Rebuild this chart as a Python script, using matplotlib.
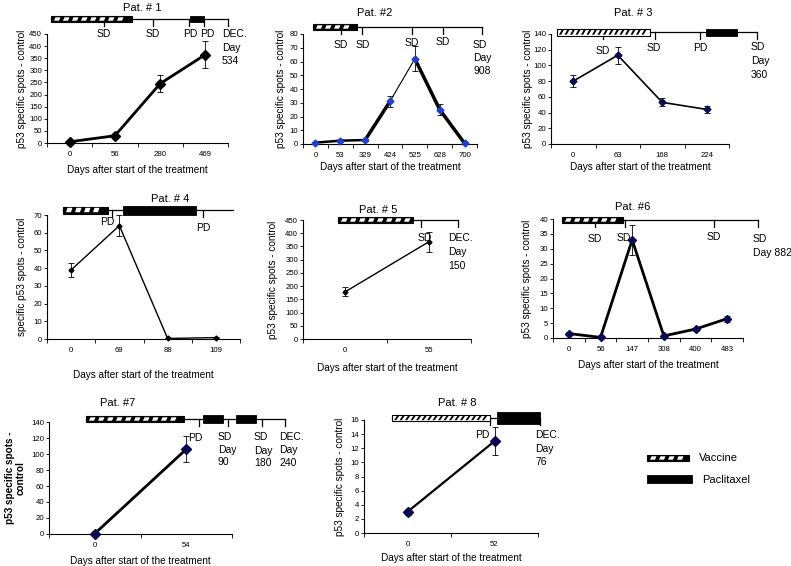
import numpy as np
import matplotlib
matplotlib.use('Agg')
from matplotlib import pyplot as plt
from matplotlib.patches import Rectangle, Polygon

plt.rcParams['font.family'] = ['Liberation Sans', 'DejaVu Sans']

# ---- data ----
p1_days = ['0', '56', '280', '469']
p1_vals = [5, 30, 245, 365]
p1_err = [4, 6, 35, 55]

p2_days = ['0', '53', '329', '424', '525', '628', '700']
p2_vals = [1, 2.4, 2.9, 31, 62, 25, 0.5]
p2_err = [0.8, 1, 1, 4, 9, 4, 0.5]

p3_days = ['0', '63', '168', '224']
p3_vals = [80, 113, 53, 44]
p3_err = [8, 11, 5, 4]

p4_days = ['0', '69', '88', '109']
p4_vals = [39, 64, 0.3, 0.8]
p4_err = [3.8, 6, 0.3, 0.3]

p5_days = ['0', '55']
p5_vals = [178, 368]
p5_err = [17, 38]

p6_days = ['0', '56', '147', '308', '400', '483']
p6_vals = [1.5, 0.2, 33, 0.7, 3, 6.5]
p6_err = [0.5, 0.2, 5, 0.3, 0.5, 1]

p7_days = ['0', '54']
p7_vals = [0.5, 106]
p7_err = [3, 16]

p8_days = ['0', '52']
p8_vals = [3, 13]
p8_err = [0.4, 2]

W, H = 791, 566
fig = plt.figure(figsize=(W / 100, H / 100), dpi=100)

# overlay in pixel coordinates for titles, timelines, legend
ov = fig.add_axes([0, 0, 1, 1], zorder=5)
ov.set_xlim(0, W)
ov.set_ylim(H, 0)
ov.axis('off')
ov.patch.set_alpha(0)


def panel(box, days, vals, err, ymax, ystep, ylabel, ylab_x, xlab_y,
          lw=1.0, ms=4, mcolor='black', seg_widths=None, ylab_bold=False):
    x0, y0, x1, y1 = box
    ax = fig.add_axes([x0 / W, 1 - y1 / H, (x1 - x0) / W, (y1 - y0) / H])
    n = len(days)
    xs = np.arange(n)
    if seg_widths is None:
        ax.plot(xs, vals, color='black', lw=lw, zorder=2)
    else:
        for i in range(n - 1):
            ax.plot(xs[i:i + 2], vals[i:i + 2], color='black', lw=seg_widths[i], zorder=2)
    ax.errorbar(xs, vals, yerr=err, fmt='none', ecolor='black', elinewidth=0.6,
                capsize=2, capthick=0.6, zorder=3)
    ax.plot(xs, vals, 'D', color=mcolor, ms=ms, mec=mcolor, lw=0, zorder=4, clip_on=False)
    ax.set_xlim(-0.5, n - 0.5)
    ax.set_ylim(0, ymax)
    ax.set_xticks(xs)
    ax.set_xticklabels(days)
    ax.set_xticks(np.arange(-0.5, n), minor=True)
    ax.set_yticks(np.arange(0, ymax + ystep / 2, ystep))
    ax.tick_params(axis='x', which='major', length=0, pad=6, labelsize=5.6)
    ax.tick_params(axis='x', which='minor', length=3, width=0.6, direction='out')
    ax.tick_params(axis='y', length=2.5, width=0.6, pad=1, labelsize=5.6)
    for s in ['top', 'right']:
        ax.spines[s].set_visible(False)
    for s in ['left', 'bottom']:
        ax.spines[s].set_linewidth(0.8)
    ax.set_xlabel('Days after start of the treatment', fontsize=7.2)
    ax.xaxis.label.set_va('center')
    ax.xaxis.set_label_coords(0.5, (y1 - xlab_y) / (y1 - y0))
    ax.set_ylabel(ylabel, fontsize=7.2, fontweight='bold' if ylab_bold else 'normal',
                  linespacing=1.1)
    ax.yaxis.label.set_va('center')
    ax.yaxis.set_label_coords((ylab_x - x0) / (x1 - x0), 0.5)
    return ax


def hatched(x0, x1, yc, h, style='dash'):
    if style == 'stripe':
        ov.add_patch(Rectangle((x0, yc - h / 2), x1 - x0, h, facecolor='white',
                               edgecolor='black', lw=0.8, zorder=3))
        x = x0 + 2
        while x + 4 < x1:
            ov.add_patch(Polygon([(x, yc + h / 2 - 0.8), (x + 2.2, yc + h / 2 - 0.8),
                                  (x + 5.2, yc - h / 2 + 0.8), (x + 3, yc - h / 2 + 0.8)],
                                 closed=True, facecolor='black', lw=0, zorder=4))
            x += 5.5
    else:
        ov.add_patch(Rectangle((x0, yc - h / 2), x1 - x0, h, facecolor='black',
                               edgecolor='black', lw=0.8, zorder=3))
        x = x0 + 3
        while x + 7 < x1:
            ov.add_patch(Polygon([(x, yc + h / 2 - 1.3), (x + 5, yc + h / 2 - 1.3),
                                  (x + 6.5, yc - h / 2 + 1.3), (x + 1.5, yc - h / 2 + 1.3)],
                                 closed=True, facecolor='white', lw=0, zorder=4))
            x += 9


def solid(x0, x1, yc, h):
    ov.add_patch(Rectangle((x0, yc - h / 2), x1 - x0, h, facecolor='black',
                           edgecolor='black', lw=0.6, zorder=3))


def timeline(x0, x1, yc, ticks, tlen=7):
    ov.plot([x0, x1], [yc, yc], color='black', lw=0.9, zorder=2)
    for t in ticks:
        ov.plot([t, t], [yc, yc + tlen], color='black', lw=0.9, zorder=2)


def note(x, y, s, ha='center'):
    ov.text(x, y, s, fontsize=7.5, ha=ha, va='center', zorder=6)


def title(x, y, s):
    ov.text(x, y, s, fontsize=8, ha='center', va='center', zorder=6)


LAB = 'p53 specific spots - control'

# Pat 1
panel((47, 34, 228, 143), p1_days, p1_vals, p1_err, 450, 50, LAB, 22, 170,
      lw=2.0, ms=4.8)
title(142, 8, 'Pat. # 1')
timeline(51, 228, 19, [104, 153, 189, 204, 228])
hatched(51, 132, 19, 6)
solid(190, 204, 19, 6)
note(104, 34, 'SD'); note(153, 34, 'SD'); note(190, 34, 'PD'); note(207, 34, 'PD')
note(222, 34, 'DEC.', 'left'); note(222, 48, 'Day', 'left'); note(222, 61, '534', 'left')

# Pat 2
panel((303, 34, 477, 144), p2_days, p2_vals, p2_err, 80, 10, LAB, 281, 167,
      ms=3.5, mcolor='#1f3fd0', seg_widths=[1.8, 1.8, 2.5, 0.8, 2.5, 2.5])
title(375, 13, 'Pat. #2')
timeline(313, 482, 27, [341, 362, 412, 443, 482])
hatched(313, 357, 27, 6)
note(341, 45, 'SD'); note(363, 45, 'SD'); note(412, 43, 'SD'); note(443, 42, 'SD')
note(473, 45, 'SD', 'left'); note(473, 58, 'Day', 'left'); note(473, 71, '908', 'left')

# Pat 3
panel((551, 34, 729, 144), p3_days, p3_vals, p3_err, 140, 20, LAB, 528, 167,
      lw=1.2, ms=3.5, mcolor='#0a0a50')
title(633, 13, 'Pat. # 3')
timeline(650, 757, 32, [603, 655, 700, 757])
hatched(557, 650, 32, 7, style='stripe')
solid(706, 737, 32, 7)
note(603, 51, 'SD'); note(654, 48, 'SD'); note(700, 48, 'PD')
note(751, 47, 'SD', 'left'); note(751, 61, 'Day', 'left'); note(751, 75, '360', 'left')

# Pat 4
panel((47, 215, 240, 339), p4_days, p4_vals, p4_err, 70, 10,
      'specific p53 spots - control', 22, 375, lw=1.0, ms=2.5)
title(170, 199, 'Pat. # 4')
timeline(63, 233, 210, [112, 203])
hatched(63, 108, 210, 7)
solid(123, 196, 210, 9)
note(107, 222, 'PD'); note(203, 228, 'PD')

# Pat 5
panel((303, 220, 471, 339), p5_days, p5_vals, p5_err, 450, 50, LAB, 273, 368,
      lw=1.0, ms=2.5)
title(378, 210, 'Pat. # 5')
timeline(338, 458, 220, [421, 458])
hatched(338, 413, 220, 6)
note(425, 238, 'SD')
note(448, 238, 'DEC.', 'left'); note(448, 252, 'Day', 'left'); note(448, 266, '150', 'left')

# Pat 6
panel((553, 219, 743, 338), p6_days, p6_vals, p6_err, 40, 5, LAB, 527, 365,
      lw=2.0, ms=4, mcolor='#0a0a50')
title(633, 207, 'Pat. #6')
timeline(562, 758, 220, [595, 625, 714, 758])
hatched(562, 623, 220, 6)
note(595, 239, 'SD'); note(624, 238, 'SD'); note(714, 237, 'SD')
note(753, 239, 'SD', 'left'); note(753, 253, 'Day 882', 'left')

# Pat 7
panel((49, 422, 232, 534), p7_days, p7_vals, p7_err, 140, 20,
      'p53 specific spots -\ncontrol', 15, 561, lw=2.0, ms=4.8,
      mcolor='#0a0a50', ylab_bold=True)
title(118, 403, 'Pat. #7')
timeline(86, 285, 419, [199, 228, 262, 285])
hatched(86, 184, 419, 6)
solid(203, 223, 419, 8)
solid(236, 256, 419, 8)
note(188, 438, 'PD', 'left')
note(218, 437, 'SD', 'left'); note(218, 450, 'Day', 'left'); note(218, 462, '90', 'left')
note(254, 437, 'SD', 'left'); note(254, 451, 'Day', 'left'); note(254, 463, '180', 'left')
note(279, 437, 'DEC.', 'left'); note(279, 450, 'Day', 'left'); note(279, 463, '240', 'left')

# Pat 8
panel((364, 420, 538, 533), p8_days, p8_vals, p8_err, 16, 2, LAB, 340, 558,
      lw=1.6, ms=4.8, mcolor='#0a0a50')
title(457, 403, 'Pat. # 8')
timeline(392, 540, 418, [490, 540])
hatched(392, 490, 418, 6, style='stripe')
solid(497, 540, 418, 12)
note(482, 435, 'PD')
note(535, 435, 'DEC.', 'left'); note(535, 449, 'Day', 'left'); note(535, 462, '76', 'left')

# legend
hatched(647, 689, 458, 6)
ov.text(699, 458, 'Vaccine', fontsize=8, ha='left', va='center')
solid(647, 692, 479, 8)
ov.text(702, 480, 'Paclitaxel', fontsize=8, ha='left', va='center')

fig.savefig('out.png', dpi=100)
